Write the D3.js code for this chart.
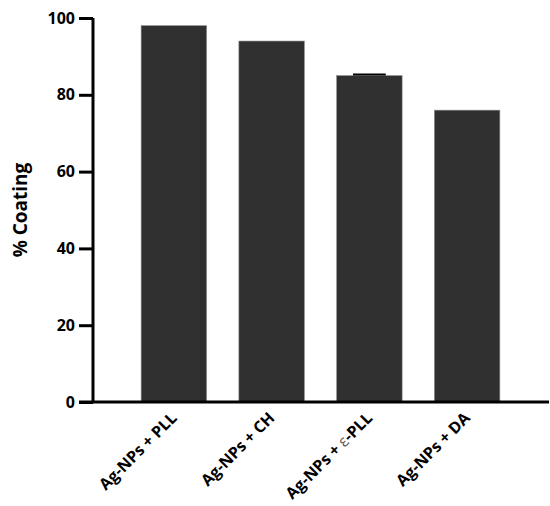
<!DOCTYPE html>
<html>
<head>
<meta charset="utf-8">
<script src="https://cdn.jsdelivr.net/npm/d3@7"></script>
<style>
  body { margin: 0; background: #fff; }
  text { font-family: "Open Sans", "Noto Sans", sans-serif; font-weight: bold; fill: #000; }
</style>
</head>
<body>
<svg id="chart" width="550" height="506"></svg>
<script>
// data
var groups = ["PLL", "CH", "ε-PLL", "DA"];
var coating = [98, 94, 85, 76];
var errors = [0, 0, 0.3, 0];
var yTicks = [0, 20, 40, 60, 80, 100];

var svg = d3.select("#chart");

var x = d3.scaleBand()
  .domain(groups)
  .range([125, 516])
  .paddingInner(0.33)
  .paddingOuter(0.165);

var y = d3.scaleLinear()
  .domain([0, 100])
  .range([402, 18]);

// bars
svg.selectAll("rect.bar")
  .data(groups)
  .enter()
  .append("rect")
  .attr("class", "bar")
  .attr("x", function(d) { return x(d); })
  .attr("y", function(d, i) { return y(coating[i]); })
  .attr("width", x.bandwidth())
  .attr("height", function(d, i) { return y(0) - y(coating[i]); })
  .attr("fill", "#303030")
  .attr("stroke", "#8a8a8a")
  .attr("stroke-width", 0.6);

// error caps (only where there's an error)
groups.forEach(function(g, i) {
  if (errors[i] > 0) {
    var cx = x(g) + x.bandwidth() / 2;
    svg.append("line")
      .attr("x1", cx - x.bandwidth() / 4)
      .attr("x2", cx + x.bandwidth() / 4)
      .attr("y1", y(coating[i] + errors[i]))
      .attr("y2", y(coating[i] + errors[i]))
      .attr("stroke", "#000")
      .attr("stroke-width", 2);
  }
});

// y axis
var yAxis = svg.append("g")
  .attr("transform", "translate(93,0)")
  .call(d3.axisLeft(y).tickValues(yTicks).tickSize(14).tickPadding(4));
yAxis.select(".domain").attr("stroke-width", 3).attr("d", "M0," + y(100) + "V" + y(0));
yAxis.selectAll(".tick line").attr("stroke-width", 3);
yAxis.selectAll(".tick text")
  .attr("font-size", 16)
  .style("font-family", "'Open Sans', sans-serif")
  .style("font-weight", "bold");

// x axis line
svg.append("line")
  .attr("x1", 79)
  .attr("x2", 549)
  .attr("y1", y(0))
  .attr("y2", y(0))
  .attr("stroke", "#000")
  .attr("stroke-width", 3);

// x labels, rotated
groups.forEach(function(g) {
  var cx = x(g) + x.bandwidth() / 2;
  var t = svg.append("text")
    .attr("transform", "translate(" + (cx + 4) + ",419) rotate(-45)")
    .attr("text-anchor", "end")
    .attr("font-size", 16);
  if (g.charAt(0) === "ε") {
    t.append("tspan").text("Ag-NPs + ");
    t.append("tspan").style("font-weight", "normal").style("fill", "#555").text("ε");
    t.append("tspan").text(g.slice(1));
  } else {
    t.text("Ag-NPs + " + g);
  }
});

// y label
svg.append("text")
  .attr("transform", "translate(27," + y(50) + ") rotate(-90)")
  .attr("text-anchor", "middle")
  .attr("font-size", 19)
  .text("% Coating");
</script>
</body>
</html>
